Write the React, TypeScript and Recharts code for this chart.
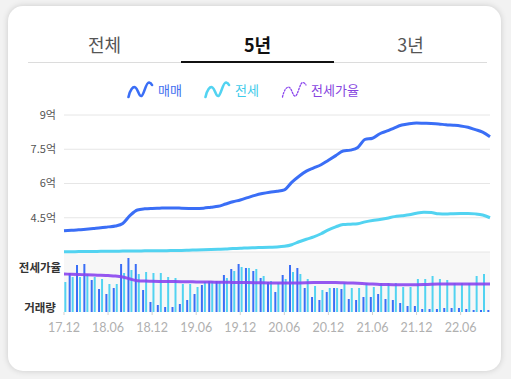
import React from 'react';
import { LineChart, Line, XAxis, YAxis, CartesianGrid, ComposedChart, Bar } from 'recharts';

const months = [
  '17.12',
  '18.01', '18.02', '18.03', '18.04', '18.05', '18.06', '18.07', '18.08', '18.09', '18.10', '18.11', '18.12',
  '19.01', '19.02', '19.03', '19.04', '19.05', '19.06', '19.07', '19.08', '19.09', '19.10', '19.11', '19.12',
  '20.01', '20.02', '20.03', '20.04', '20.05', '20.06', '20.07', '20.08', '20.09', '20.10', '20.11', '20.12',
  '21.01', '21.02', '21.03', '21.04', '21.05', '21.06', '21.07', '21.08', '21.09', '21.10', '21.11', '21.12',
  '22.01', '22.02', '22.03', '22.04', '22.05', '22.06', '22.07', '22.08', '22.09', '22.10',
];

// 매매 (억)
const salePrice = [
  3.93, 3.95, 3.97, 4.0, 4.03, 4.06, 4.1, 4.14, 4.25, 4.6, 4.84, 4.89, 4.91,
  4.92, 4.93, 4.93, 4.92, 4.91, 4.9, 4.92, 4.96, 5.0, 5.1, 5.2, 5.28,
  5.38, 5.48, 5.56, 5.62, 5.66, 5.72, 6.05, 6.32, 6.54, 6.68, 6.82, 7.02,
  7.22, 7.42, 7.46, 7.58, 7.93, 7.98, 8.18, 8.3, 8.44, 8.56, 8.62, 8.65,
  8.64, 8.63, 8.61, 8.57, 8.55, 8.52, 8.46, 8.36, 8.25, 8.05,
];

// 전세 (억)
const jeonsePrice = [
  3.01, 3.01, 3.02, 3.02, 3.02, 3.03, 3.03, 3.03, 3.04, 3.04, 3.04, 3.05, 3.05,
  3.06, 3.06, 3.07, 3.07, 3.08, 3.09, 3.1, 3.11, 3.12, 3.13, 3.15, 3.16,
  3.18, 3.19, 3.2, 3.21, 3.22, 3.25, 3.32, 3.45, 3.56, 3.66, 3.8, 3.97,
  4.1, 4.2, 4.22, 4.24, 4.32, 4.38, 4.42, 4.48, 4.55, 4.59, 4.63, 4.7,
  4.74, 4.73, 4.67, 4.66, 4.68, 4.69, 4.69, 4.67, 4.62, 4.5,
];

// 거래량 (매매)
const saleVolume = [
  30, 39, 47, 48, 32, 23, 18, 24, 48, 54, 48, 22, 10,
  7, 5, 5, 8, 12, 18, 27, 31, 31, 37, 43, 48,
  44, 41, 34, 30, 20, 37, 47, 44, 24, 15, 12, 20,
  24, 23, 13, 12, 15, 15, 18, 13, 12, 9, 6, 6,
  3, 3, 3, 4, 4, 4, 3, 2, 2, 2,
];

// 거래량 (전세)
const jeonseVolume = [
  30, 35, 35, 38, 35, 33, 28, 28, 39, 42, 38, 40, 39,
  39, 35, 34, 28, 28, 25, 30, 31, 31, 34, 41, 45,
  44, 43, 36, 31, 29, 33, 40, 38, 33, 26, 22, 24,
  24, 29, 24, 24, 29, 25, 29, 29, 29, 25, 25, 33,
  33, 36, 33, 32, 29, 29, 29, 36, 38, 38,
];

// 전세가율 (%)
const jeonseRatio = [
  76, 75.5, 75, 74.5, 74, 73.5, 72.8, 72, 70, 66, 62.5, 61.8, 61.5,
  61.2, 61, 60.8, 60.6, 60.4, 60.2, 60, 59.8, 59.6, 59.4, 59.2, 59,
  58.8, 58.6, 58.4, 58.2, 58, 57.8, 57.8, 58, 58.4, 58.8, 59, 59,
  58.8, 58.4, 58, 57.4, 56.6, 55.8, 55.2, 54.8, 54.6, 54.4, 54.4, 54.6,
  55, 55.4, 55.8, 56, 56, 56, 56, 56, 56, 56,
];

const priceTicks = [3, 4.5, 6, 7.5, 9];
const monthTickIdx = [0, 6, 12, 18, 24, 30, 36, 42, 48, 54];
const tabs = ['전체', '5년', '3년'];

const data = months.map((m, i) => ({
  idx: i,
  month: m,
  sale: salePrice[i],
  jeonse: jeonsePrice[i],
  saleVol: saleVolume[i],
  jeonseVol: jeonseVolume[i],
  ratio: jeonseRatio[i],
}));

const SALE = '#3a6ef6';
const JEONSE = '#52d3f1';
const RATIO = '#8a45ee';
const KR = '"Noto Sans CJK KR", "Noto Sans", sans-serif';

const Wave = ({ color, dashed }: { color: string; dashed?: boolean }) => (
  <svg width={27} height={20} viewBox="0 0 27 20" style={{ display: 'block' }}>
    <path
      d="M1.5 17 C 3 10, 6 6, 8.5 7.5 C 11 9, 12 17, 14.5 16 C 17 15, 19 2, 22 2.5 C 23.5 2.8, 24.5 4, 25 5"
      fill="none"
      stroke={color}
      strokeWidth={dashed ? 1.3 : 2.6}
      strokeLinecap="round"
      strokeDasharray={dashed ? '1.5 1.6' : undefined}
    />
  </svg>
);

export default function App() {
  return (
    <div style={{ position: 'absolute', left: 0, top: 0, width: 511, height: 379, background: '#f2f2f2', overflow: 'hidden', fontFamily: KR }}>
      <div style={{ position: 'absolute', left: 8, top: 6, width: 493, height: 365, background: '#fff', borderRadius: 15, boxShadow: '0 0 6px rgba(0,0,0,0.16)' }} />

      {tabs.map((t, k) => (
        <div
          key={t}
          style={{
            position: 'absolute', left: 28 + k * 153, top: 29, width: 153, height: 30, lineHeight: '30px',
            textAlign: 'center', fontSize: 18, fontWeight: k === 1 ? 700 : 400, color: k === 1 ? '#111' : '#555',
          }}
        >
          {t}
        </div>
      ))}
      <div style={{ position: 'absolute', left: 28, top: 62, width: 459, height: 1, background: '#dcdcdc' }} />
      <div style={{ position: 'absolute', left: 181, top: 61, width: 153, height: 2, background: '#111' }} />

      <div style={{ position: 'absolute', left: 127, top: 80 }}><Wave color={SALE} /></div>
      <div style={{ position: 'absolute', left: 158, top: 81, fontSize: 13, lineHeight: '18px', color: '#3f6ff0' }}>매매</div>
      <div style={{ position: 'absolute', left: 204, top: 80 }}><Wave color={JEONSE} /></div>
      <div style={{ position: 'absolute', left: 235, top: 81, fontSize: 13, lineHeight: '18px', color: '#3fcbea' }}>전세</div>
      <div style={{ position: 'absolute', left: 281, top: 80 }}><Wave color={RATIO} dashed /></div>
      <div style={{ position: 'absolute', left: 311, top: 81, fontSize: 13, lineHeight: '18px', color: '#8744e0' }}>전세가율</div>

      <div style={{ position: 'absolute', left: 64, top: 252, width: 426, height: 60, background: '#f7f7f7' }} />

      <div style={{ position: 'absolute', left: 0, top: 240 }}>
        <ComposedChart width={511} height={100} data={data} margin={{ top: 12, right: 21, bottom: 8, left: 64 }} barGap={1}>
          <XAxis
            type="number"
            dataKey="idx"
            domain={[0, 58]}
            ticks={monthTickIdx}
            interval={0}
            allowDataOverflow
            tickFormatter={(v: number) => months[v]}
            axisLine={false}
            tickLine={{ stroke: '#cfcfcf' }}
            tickSize={3}
            tickMargin={8}
            height={20}
            tick={{ fontSize: 12.5, fill: '#b0b0b0', fontFamily: 'Lato, sans-serif' }}
          />
          <YAxis yAxisId="vol" hide domain={[0, 60]} allowDataOverflow />
          <YAxis yAxisId="ratio" hide domain={[0, 120]} />
          <Bar yAxisId="vol" dataKey="saleVol" fill={SALE} barSize={2} isAnimationActive={false} />
          <Bar yAxisId="vol" dataKey="jeonseVol" fill={JEONSE} barSize={2} isAnimationActive={false} />
          <Line yAxisId="ratio" type="monotone" dataKey="ratio" stroke={RATIO} strokeWidth={3} strokeOpacity={0.9} dot={false} activeDot={false} isAnimationActive={false} />
        </ComposedChart>
      </div>

      <div style={{ position: 'absolute', left: 0, top: 100 }}>
        <LineChart width={511} height={165} data={data} margin={{ top: 15, right: 21, bottom: 13, left: 4 }}>
          <CartesianGrid vertical={false} stroke="#e6e6e6" />
          <XAxis type="number" dataKey="idx" domain={[0, 58]} hide />
          <YAxis
            domain={[3, 9]}
            ticks={priceTicks}
            interval={0}
            width={60}
            axisLine={false}
            tickLine={false}
            tickSize={0}
            tickMargin={8}
            tickFormatter={(v: number) => (v === 3 ? '' : `${v}억`)}
            tick={{ fontSize: 11, fill: '#555', fontFamily: KR }}
          />
          <Line type="monotone" dataKey="jeonse" stroke={JEONSE} strokeWidth={3} dot={false} activeDot={false} isAnimationActive={false} />
          <Line type="monotone" dataKey="sale" stroke={SALE} strokeWidth={3} dot={false} activeDot={false} isAnimationActive={false} />
        </LineChart>
      </div>

      <div style={{ position: 'absolute', left: 10, top: 258, width: 60, textAlign: 'center', fontSize: 11.5, fontWeight: 700, color: '#333', lineHeight: '18px' }}>전세가율</div>
      <div style={{ position: 'absolute', left: 10, top: 298, width: 60, textAlign: 'center', fontSize: 11.5, fontWeight: 700, color: '#333', lineHeight: '18px' }}>거래량</div>
    </div>
  );
}
